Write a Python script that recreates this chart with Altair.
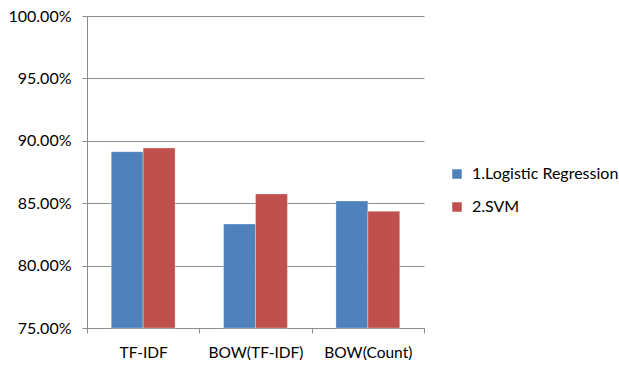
import altair as alt
import pandas as pd

# Accuracy of each feature representation for two classifiers
features = ["TF-IDF", "BOW(TF-IDF)", "BOW(Count)"]
models = ["1.Logistic Regression", "2.SVM"]
logreg_acc = [0.8913, 0.8333, 0.8518]
svm_acc = [0.8942, 0.8574, 0.8435]

rows = []
for f, lr, sv in zip(features, logreg_acc, svm_acc):
    rows.append({"feature": f, "model": models[0], "acc": lr})
    rows.append({"feature": f, "model": models[1], "acc": sv})
df = pd.DataFrame(rows)

FONT = "Lato"
GRID = "#8c8c8c"

bars = alt.Chart(df).mark_bar(stroke="white", strokeWidth=0.6, strokeOpacity=0.5).encode(
    x=alt.X(
        "feature:N",
        sort=features,
        title=None,
        scale=alt.Scale(paddingInner=0, paddingOuter=0),
        axis=alt.Axis(
            labelAngle=0, tickBand="extent", tickSize=5, tickColor=GRID,
            domainColor=GRID, labelFont=FONT, labelFontSize=15.5, labelColor="#000000",
            labelPadding=12, grid=False,
        ),
    ),
    xOffset=alt.XOffset(
        "model:N", sort=models, scale=alt.Scale(paddingInner=0, paddingOuter=0.76)
    ),
    y=alt.Y(
        "acc:Q",
        title=None,
        scale=alt.Scale(domain=[0.75, 1.0], clamp=True, nice=False, zero=False),
        axis=alt.Axis(
            values=[0.75, 0.80, 0.85, 0.90, 0.95, 1.0], format=".2%",
            tickSize=5, tickColor=GRID, domainColor=GRID, gridColor=GRID,
            gridWidth=1, labelFont=FONT, labelFontSize=16, labelColor="#000000",
            labelPadding=11,
        ),
    ),
    color=alt.Color(
        "model:N",
        sort=models,
        title=None,
        scale=alt.Scale(domain=models, range=["#4F81BD", "#C0504D"]),
        legend=alt.Legend(
            orient="none", legendX=362, legendY=150, symbolType="square",
            symbolSize=90, symbolStrokeWidth=0, labelFont=FONT, labelFontSize=16,
            labelColor="#000000", rowPadding=17, labelOffset=7,
        ),
    ),
)

chart = bars.properties(
    width=337,
    height=312,
    autosize=alt.AutoSizeParams(type="none"),
    padding={"left": 87, "top": 16, "right": 195, "bottom": 39},
    background="white",
).configure_view(stroke=None)

chart.save("out.html", embed_options={"renderer": "svg", "actions": False})
